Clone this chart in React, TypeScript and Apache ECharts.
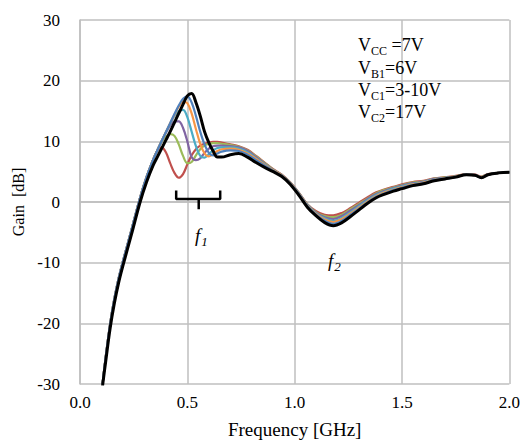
import React, { useEffect, useRef } from "react";
import * as echarts from "echarts";

// Frequency grid [GHz]
const FREQ = [0.105, 0.12, 0.14, 0.16, 0.18, 0.20, 0.24, 0.28, 0.31, 0.34, 0.36, 0.38, 0.40, 0.42, 0.44, 0.46, 0.48, 0.50, 0.52, 0.54, 0.56, 0.58, 0.60, 0.62, 0.64, 0.66, 0.70, 0.74, 0.78, 0.82, 0.86, 0.90, 0.94, 0.98, 1.02, 1.06, 1.10, 1.14, 1.18, 1.22, 1.26, 1.30, 1.34, 1.38, 1.42, 1.46, 1.50, 1.55, 1.60, 1.65, 1.70, 1.75, 1.80, 1.84, 1.87, 1.90, 1.95, 2.00];

// Gain [dB] for each VC1 setting
const GAIN_RED = [-30, -25.5, -20.2, -16.0, -12.6, -9.8, -4.6, 0.7, 4.1, 6.9, 8.4, 9.0, 8.2, 6.4, 4.8, 4.0, 4.6, 6.2, 7.7, 8.7, 9.3, 9.6, 9.8, 9.9, 9.9, 9.8, 9.5, 9.2, 8.6, 7.6, 6.5, 5.4, 4.5, 3.2, 1.5, -0.4, -1.5, -2.1, -2.2, -1.8, -1.0, -0.1, 0.8, 1.6, 2.1, 2.5, 2.9, 3.3, 3.5, 3.9, 4.1, 4.3, 4.6, 4.5, 4.2, 4.6, 4.8, 4.9];
const GAIN_GREEN = [-30, -25.5, -20.2, -16.0, -12.6, -9.8, -4.6, 0.7, 4.1, 6.9, 8.5, 9.9, 10.8, 11.2, 10.9, 9.5, 7.6, 6.4, 6.6, 7.7, 8.7, 9.3, 9.6, 9.7, 9.7, 9.6, 9.4, 9.1, 8.5, 7.5, 6.4, 5.35, 4.45, 3.15, 1.45, -0.45, -1.7, -2.3, -2.5, -2.1, -1.2, -0.3, 0.6, 1.45, 2.0, 2.4, 2.8, 3.2, 3.4, 3.85, 4.05, 4.25, 4.55, 4.45, 4.15, 4.55, 4.8, 4.9];
const GAIN_PURPLE = [-30, -25.5, -20.2, -16.0, -12.6, -9.8, -4.6, 0.7, 4.1, 6.9, 8.5, 10.0, 11.4, 12.6, 13.3, 13.3, 12.2, 10.0, 7.4, 6.9, 7.2, 8.1, 8.8, 9.2, 9.3, 9.3, 9.2, 9.0, 8.4, 7.4, 6.3, 5.3, 4.4, 3.1, 1.4, -0.5, -1.8, -2.5, -2.8, -2.3, -1.4, -0.5, 0.5, 1.3, 1.85, 2.3, 2.7, 3.1, 3.35, 3.8, 4.0, 4.2, 4.55, 4.45, 4.1, 4.55, 4.8, 4.9];
const GAIN_TEAL = [-30, -25.5, -20.2, -16.0, -12.6, -9.8, -4.6, 0.7, 4.1, 6.9, 8.5, 10.0, 11.5, 12.9, 14.2, 15.0, 15.2, 14.0, 11.6, 9.2, 7.6, 7.3, 7.9, 8.5, 8.9, 9.0, 9.0, 8.8, 8.2, 7.2, 6.2, 5.25, 4.4, 3.1, 1.35, -0.55, -1.9, -2.7, -3.1, -2.6, -1.7, -0.7, 0.3, 1.15, 1.7, 2.2, 2.6, 3.0, 3.25, 3.7, 3.95, 4.2, 4.5, 4.45, 4.05, 4.5, 4.8, 4.9];
const GAIN_ORANGE = [-30, -25.5, -20.2, -16.0, -12.6, -9.8, -4.6, 0.7, 4.1, 6.9, 8.5, 10.0, 11.5, 13.0, 14.4, 15.7, 16.5, 16.3, 14.6, 12.0, 9.6, 8.0, 7.5, 7.9, 8.4, 8.7, 8.8, 8.6, 8.0, 7.1, 6.1, 5.2, 4.35, 3.05, 1.3, -0.6, -2.0, -2.9, -3.3, -2.8, -1.9, -0.9, 0.1, 1.0, 1.6, 2.05, 2.45, 2.9, 3.2, 3.65, 3.9, 4.15, 4.5, 4.4, 4.05, 4.5, 4.8, 4.9];
const GAIN_BLUE = [-30, -25.5, -20.2, -16.0, -12.6, -9.8, -4.6, 0.7, 4.1, 6.9, 8.5, 10.0, 11.5, 13.0, 14.5, 15.9, 17.0, 17.4, 16.4, 14.2, 11.6, 9.5, 8.1, 7.7, 8.0, 8.3, 8.5, 8.4, 7.8, 6.9, 6.0, 5.1, 4.3, 3.0, 1.25, -0.7, -2.1, -3.1, -3.6, -3.1, -2.1, -1.1, -0.05, 0.85, 1.45, 1.95, 2.35, 2.8, 3.1, 3.6, 3.85, 4.1, 4.5, 4.4, 4.0, 4.5, 4.8, 4.9];
const GAIN_BLACK = [-30.3, -26.2, -20.9, -16.7, -13.3, -10.5, -5.3, 0.0, 3.3, 6.0, 7.4, 8.8, 10.2, 11.6, 13.1, 14.6, 16.1, 17.5, 17.9, 16.4, 14.2, 11.6, 9.8, 8.4, 7.4, 7.4, 7.8, 8.0, 7.4, 6.5, 5.7, 5.0, 4.2, 2.9, 1.1, -0.9, -2.3, -3.4, -3.9, -3.4, -2.4, -1.3, -0.2, 0.7, 1.3, 1.8, 2.2, 2.7, 3.0, 3.5, 3.8, 4.1, 4.5, 4.4, 4.0, 4.5, 4.8, 4.9];

const CURVES = [GAIN_RED, GAIN_GREEN, GAIN_PURPLE, GAIN_TEAL, GAIN_ORANGE, GAIN_BLUE, GAIN_BLACK];
const CURVE_NAMES = ["VC1=3V", "VC1=4V", "VC1=5V", "VC1=6V", "VC1=7V", "VC1=8V", "VC1=10V"];
const CURVE_COLORS = ["#C0504D", "#9BBB59", "#8064A2", "#4BACC6", "#F79646", "#4F81BD", "#000000"];

// f1 bracket annotation (data coordinates)
const BRACKET_ARMS = [[0.448, 1.9], [0.448, 0.5], [0.653, 0.5], [0.653, 1.9]];
const BRACKET_STEM = [[0.553, 0.5], [0.553, -1.2]];

const X_TICKS = { min: 0, max: 2, interval: 0.5 };
const Y_TICKS = { min: -30, max: 30, interval: 10 };

const LEGEND_LINES = [
  ["V", "CC", " =7V"],
  ["V", "B1", "=6V"],
  ["V", "C1", "=3-10V"],
  ["V", "C2", "=17V"],
];

const FONT = "Liberation Serif";
const AXIS_FONT = "Times New Roman";

function measure(text: string, size: number, italic = false) {
  const c = document.createElement("canvas").getContext("2d")!;
  c.font = `${italic ? "italic " : ""}${size}px ${FONT}`;
  return c.measureText(text).width;
}

export default function App() {
  const ref = useRef<HTMLDivElement>(null);
  useEffect(() => {
    const chart = echarts.init(ref.current!, null, { renderer: "svg" });
    const series: any[] = CURVES.map((vals, i) => ({
      name: CURVE_NAMES[i],
      type: "line",
      data: FREQ.map((f, k) => [f, vals[k]]),
      showSymbol: false,
      smooth: 0.35,
      lineStyle: { color: CURVE_COLORS[i], width: i === CURVES.length - 1 ? 3 : 2.2 },
      itemStyle: { color: CURVE_COLORS[i] },
      z: 2 + i,
      silent: true,
    }));
    [BRACKET_ARMS, BRACKET_STEM].forEach((d) => {
      series.push({
        type: "line",
        data: d,
        showSymbol: false,
        lineStyle: { color: "#000", width: 2.5 },
        z: 20,
        silent: true,
      });
    });

    const txt = (text: string, x: number, y: number, size: number, italic = false) => ({
      type: "text",
      x,
      y,
      z: 100,
      style: {
        text,
        fontSize: size,
        fontFamily: FONT,
        fontStyle: italic ? "italic" : "normal",
        fill: "#000",
        verticalAlign: "middle",
        align: "left",
      },
    });

    const legendYs = [45, 68, 90, 112];
    const graphics: any[] = [];
    LEGEND_LINES.forEach((l, i) => {
      const x0 = 358;
      const y = legendYs[i];
      const w1 = measure(l[0], 18);
      const w2 = measure(l[1], 12);
      graphics.push(txt(l[0], x0, y, 18));
      graphics.push(txt(l[1], x0 + w1, y + 6, 12));
      graphics.push(txt(l[2], x0 + w1 + w2, y, 18));
    });
    const fw = measure("f", 19, true);
    graphics.push(txt("f", 195, 235, 19, true));
    graphics.push(txt("1", 195 + fw + 1, 241, 13, true));
    graphics.push(txt("f", 328, 260, 19, true));
    graphics.push(txt("2", 328 + fw + 1, 266, 13, true));

    chart.setOption({
      animation: false,
      grid: { left: 80, right: 11, top: 20, bottom: 58 },
      xAxis: {
        type: "value",
        ...X_TICKS,
        name: "Frequency [GHz]",
        nameLocation: "middle",
        nameGap: 36,
        nameTextStyle: { fontSize: 19, color: "#000", fontFamily: AXIS_FONT },
        axisLine: { show: true, lineStyle: { color: "#BFBFBF", width: 1.5 } },
        axisTick: { show: false },
        axisLabel: {
          fontSize: 17,
          color: "#000",
          fontFamily: AXIS_FONT,
          margin: 10,
          formatter: (v: number) => v.toFixed(1),
        },
        splitLine: { show: true, lineStyle: { color: "#BFBFBF", width: 1.5 } },
      },
      yAxis: {
        type: "value",
        ...Y_TICKS,
        name: "Gain  [dB]",
        nameLocation: "middle",
        nameGap: 49,
        nameTextStyle: { fontSize: 16, color: "#000", fontFamily: AXIS_FONT },
        axisLine: { show: true, lineStyle: { color: "#BFBFBF", width: 1.5 } },
        axisTick: { show: false },
        axisLabel: { fontSize: 17, color: "#000", fontFamily: AXIS_FONT, margin: 20 },
        splitLine: { show: true, lineStyle: { color: "#BFBFBF", width: 1.5 } },
      },
      series,
      graphic: graphics,
    });
    return () => chart.dispose();
  }, []);
  return <div ref={ref} style={{ position: "fixed", left: 0, top: 0, width: 523, height: 444, background: "#fff" }} />;
}
